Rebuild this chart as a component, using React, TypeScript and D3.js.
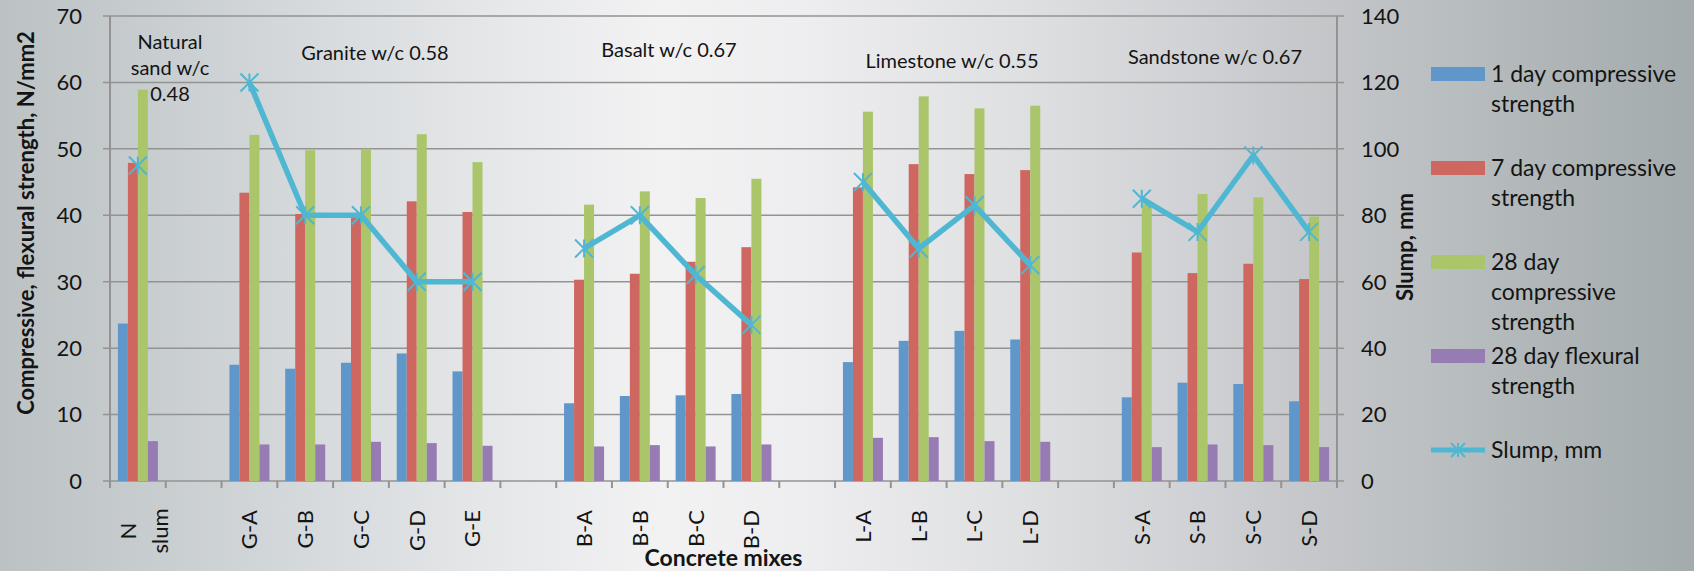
import React from "react";
import * as d3 from "d3";

// ---------- data ----------
const categories = ["N\nslum", "", "G-A", "G-B", "G-C", "G-D", "G-E", "", "B-A", "B-B", "B-C", "B-D", "", "L-A", "L-B", "L-C", "L-D", "", "S-A", "S-B", "S-C", "S-D"];
const oneDay = [23.7, null, 17.5, 16.9, 17.8, 19.2, 16.5, null, 11.7, 12.8, 12.9, 13.1, null, 17.9, 21.1, 22.6, 21.3, null, 12.6, 14.8, 14.6, 12.0];
const sevenDay = [47.9, null, 43.4, 40.2, 40.0, 42.1, 40.5, null, 30.3, 31.2, 33.0, 35.2, null, 44.2, 47.7, 46.2, 46.8, null, 34.4, 31.3, 32.7, 30.4];
const twentyEightDay = [58.9, null, 52.1, 49.8, 50.0, 52.2, 48.0, null, 41.6, 43.6, 42.6, 45.5, null, 55.6, 57.9, 56.1, 56.5, null, 41.8, 43.2, 42.7, 39.8];
const flexural = [6.0, null, 5.5, 5.5, 5.9, 5.7, 5.3, null, 5.2, 5.4, 5.2, 5.5, null, 6.5, 6.6, 6.0, 5.9, null, 5.1, 5.5, 5.4, 5.1];
const slump = [95, null, 120, 80, 80, 60, 60, null, 70, 80, 62, 47, null, 90, 70, 83, 65, null, 85, 75, 98, 75];

const barSeriesNames = ["1 day compressive\nstrength", "7 day compressive\nstrength", "28 day\ncompressive\nstrength", "28 day flexural\nstrength"];
const lineSeriesName = "Slump, mm";
const leftTicks = [0, 10, 20, 30, 40, 50, 60, 70];
const rightTicks = [0, 20, 40, 60, 80, 100, 120, 140];
const groupLabels = ["Natural\nsand w/c\n0.48", "Granite w/c 0.58", "Basalt w/c 0.67", "Limestone w/c 0.55", "Sandstone w/c 0.67"];
const leftTitle = "Compressive, flexural strength, N/mm2";
const rightTitle = "Slump, mm";
const xTitle = "Concrete mixes";

// ---------- layout / style ----------
const W = 1694, H = 571;
const plot = { left: 110, right: 1337, top: 16, bottom: 481 };
const barColors = ["#6097cb", "#cf6761", "#abc56b", "#977bb3"];
const lineColor = "#4fb7d2";
const gridColor = "#939393";
const textColor = "#141414";
const FONT = "Lato, 'Open Sans', sans-serif";
const groupLabelPos = [
  { x: 170, y: 42 },
  { x: 375, y: 53 },
  { x: 669, y: 50 },
  { x: 952, y: 61 },
  { x: 1215, y: 57 },
];

export default function App() {
  const idx = categories.map((_, i) => i);
  const x = d3.scaleBand<number>().domain(idx).range([plot.left, plot.right]).paddingInner(0).paddingOuter(0);
  const sub = d3.scaleBand<number>().domain([0, 1, 2, 3]).range([0, x.bandwidth()]).paddingInner(0).paddingOuter(0.789);
  const yL = d3.scaleLinear().domain([0, 70]).range([plot.bottom, plot.top]);
  const yR = d3.scaleLinear().domain([0, 140]).range([plot.bottom, plot.top]);
  const series = [oneDay, sevenDay, twentyEightDay, flexural];
  const cx = (i: number) => (x(i) as number) + x.bandwidth() / 2;

  const lineGen = d3
    .line<number | null>()
    .defined((d) => d != null)
    .x((_, i) => cx(i))
    .y((d) => yR(d as number));

  const star = (px: number, py: number, r = 9) =>
    `M${px - r},${py - r}L${px + r},${py + r}M${px - r},${py + r}L${px + r},${py - r}M${px},${py - r}L${px},${py + r}`;

  const legendX = 1431;
  const legendY = [74, 168, 262, 356];
  const legendLineY = 450;
  const lh = 30;

  return (
    <svg width={W} height={H} style={{ position: "absolute", left: 0, top: 0, fontFamily: FONT }}>
      <defs>
        <linearGradient id="bg" x1="0" x2="1" y1="0" y2="0">
          <stop offset="0" stopColor="#bcc1c4" />
          <stop offset="0.1" stopColor="#c9ced0" />
          <stop offset="0.2" stopColor="#d8dcde" />
          <stop offset="0.3" stopColor="#e7e8ea" />
          <stop offset="0.39" stopColor="#f2f2f3" />
          <stop offset="0.47" stopColor="#eeeef0" />
          <stop offset="0.6" stopColor="#dfe0e2" />
          <stop offset="0.7" stopColor="#d1d2d5" />
          <stop offset="0.75" stopColor="#c9cacd" />
          <stop offset="0.86" stopColor="#b8bdbf" />
          <stop offset="1" stopColor="#a3abac" />
        </linearGradient>
      </defs>
      <rect x={0} y={0} width={W} height={H} fill="url(#bg)" />

      {/* gridlines */}
      {leftTicks.map((t) => (
        <line key={"g" + t} x1={plot.left - 7} x2={plot.right + 7} y1={yL(t)} y2={yL(t)} stroke={gridColor} strokeWidth={1.5} />
      ))}
      {/* axis lines */}
      <line x1={plot.left} x2={plot.left} y1={plot.top} y2={plot.bottom + 7} stroke={gridColor} strokeWidth={2} />
      <line x1={plot.right} x2={plot.right} y1={plot.top} y2={plot.bottom + 7} stroke={gridColor} strokeWidth={2} />
      {idx.concat([categories.length]).map((i) => {
        const xx = plot.left + i * x.step();
        return <line key={"t" + i} x1={xx} x2={xx} y1={plot.bottom} y2={plot.bottom + 7} stroke={gridColor} strokeWidth={2} />;
      })}

      {/* bars */}
      {series.map((s, si) =>
        s.map((v, i) =>
          v == null ? null : (
            <rect
              key={`b${si}-${i}`}
              x={(x(i) as number) + (sub(si) as number)}
              y={yL(v)}
              width={sub.bandwidth()}
              height={yL(0) - yL(v)}
              fill={barColors[si]}
            />
          )
        )
      )}

      {/* slump line */}
      <path d={lineGen(slump) || ""} fill="none" stroke={lineColor} strokeWidth={5.5} strokeLinejoin="round" />
      {slump.map((v, i) =>
        v == null ? null : <path key={"m" + i} d={star(cx(i), yR(v))} stroke={lineColor} strokeWidth={2} fill="none" />
      )}

      {/* left tick labels */}
      {leftTicks.map((t) => (
        <text key={"lt" + t} x={82} y={yL(t)} dy="0.36em" textAnchor="end" fontSize={22} fill={textColor}>
          {t}
        </text>
      ))}
      {rightTicks.map((t) => (
        <text key={"rt" + t} x={1361} y={yR(t)} dy="0.36em" textAnchor="start" fontSize={22} fill={textColor}>
          {t}
        </text>
      ))}

      {/* category labels */}
      {categories.map((c, i) => {
        if (!c) return null;
        const lines = c.split("\n");
        if (lines.length === 1) {
          return (
            <text key={"c" + i} transform={`translate(${cx(i)},510) rotate(-90)`} textAnchor="end" dy="0.36em" fontSize={22} fill={textColor}>
              {c}
            </text>
          );
        }
        return (
          <text key={"c" + i} transform={`translate(${cx(i) + 6},531) rotate(-90)`} textAnchor="middle" fontSize={22} fill={textColor}>
            {lines.map((l, k) => (
              <tspan key={k} x={0} dy={k === 0 ? `${0.36 - ((lines.length - 1) * 32) / 2 / 22}em` : 32}>
                {l}
              </tspan>
            ))}
          </text>
        );
      })}

      {/* group labels */}
      {groupLabels.map((g, gi) => {
        const lines = g.split("\n");
        return (
          <text key={"gl" + gi} x={groupLabelPos[gi].x} y={groupLabelPos[gi].y} textAnchor="middle" fontSize={20} fill={textColor}>
            {lines.map((l, k) => (
              <tspan key={k} x={groupLabelPos[gi].x} dy={k === 0 ? "0.36em" : 26}>
                {l}
              </tspan>
            ))}
          </text>
        );
      })}

      {/* axis titles */}
      <text transform={`translate(26,223) rotate(-90)`} textAnchor="middle" dy="0.36em" fontSize={22} fontWeight="bold" fill={textColor}>
        {leftTitle}
      </text>
      <text transform={`translate(1405,247) rotate(-90)`} textAnchor="middle" dy="0.36em" fontSize={22} fontWeight="bold" fill={textColor}>
        {rightTitle}
      </text>
      <text x={(plot.left + plot.right) / 2} y={558} textAnchor="middle" dy="0.36em" fontSize={23} fontWeight="bold" fill={textColor}>
        {xTitle}
      </text>

      {/* legend */}
      {barSeriesNames.map((n, si) => (
        <g key={"lg" + si}>
          <rect x={legendX} y={legendY[si] - 7} width={54} height={14} fill={barColors[si]} />
          <text x={legendX + 60} y={legendY[si]} fontSize={23} fill={textColor}>
            {n.split("\n").map((l, k) => (
              <tspan key={k} x={legendX + 60} dy={k === 0 ? "0.36em" : lh}>
                {l}
              </tspan>
            ))}
          </text>
        </g>
      ))}
      <g>
        <line x1={legendX} x2={legendX + 54} y1={legendLineY} y2={legendLineY} stroke={lineColor} strokeWidth={5} />
        <path d={star(legendX + 27, legendLineY, 7)} stroke={lineColor} strokeWidth={2} fill="none" />
        <text x={legendX + 60} y={legendLineY} dy="0.36em" fontSize={23} fill={textColor}>
          {lineSeriesName}
        </text>
      </g>
    </svg>
  );
}
